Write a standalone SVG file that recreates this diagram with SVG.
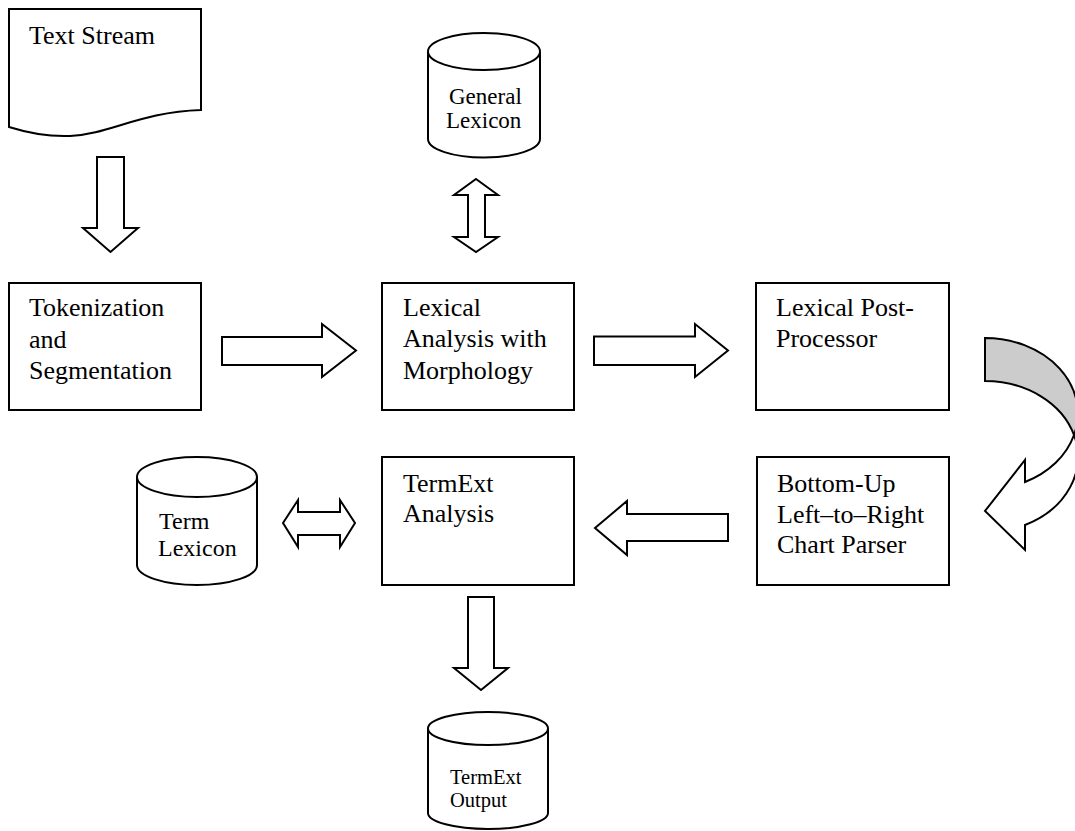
<svg xmlns="http://www.w3.org/2000/svg" width="1075" height="831" viewBox="0 0 1075 831">
  <style>
    .shape { fill: #ffffff; stroke: #000000; stroke-width: 2; stroke-linejoin: miter; }
    .band { fill: #cccccc; stroke: #000000; stroke-width: 2; }
    .label { font-family: "Liberation Serif", "Times New Roman", serif; font-size: 26px; fill: #000000; }
    .small { font-family: "Liberation Serif", "Times New Roman", serif; fill: #000000; }
  </style>
  <rect x="0" y="0" width="1075" height="831" fill="#ffffff"/>

  <!-- Input document -->
  <g id="text-stream">
    <path class="shape" d="M9,9 H201 V110 C140,112 110,134 70,136 C45,137 25,132 9,127 Z"/>
    <text class="label" x="29" y="44">Text Stream</text>
  </g>

  <!-- Processing steps -->
  <g id="tokenization">
    <rect class="shape" x="9" y="283" width="192" height="127"/>
    <text class="label" x="29" y="316">Tokenization</text>
    <text class="label" x="29" y="348">and</text>
    <text class="label" x="29" y="379">Segmentation</text>
  </g>

  <g id="lexical-analysis">
    <rect class="shape" x="382" y="283" width="192" height="127"/>
    <text class="label" x="403" y="316">Lexical</text>
    <text class="label" x="403" y="347">Analysis with</text>
    <text class="label" x="403" y="379">Morphology</text>
  </g>

  <g id="post-processor">
    <rect class="shape" x="756" y="283" width="193" height="127"/>
    <text class="label" x="776" y="316">Lexical Post-</text>
    <text class="label" x="776" y="347">Processor</text>
  </g>

  <g id="chart-parser">
    <rect class="shape" x="757" y="457" width="192" height="128"/>
    <text class="label" x="777" y="492">Bottom-Up</text>
    <text class="label" x="777" y="523">Left–to–Right</text>
    <text class="label" x="777" y="553">Chart Parser</text>
  </g>

  <g id="termext-analysis">
    <rect class="shape" x="382" y="457" width="192" height="128"/>
    <text class="label" x="403" y="492">TermExt</text>
    <text class="label" x="403" y="522">Analysis</text>
  </g>

  <!-- Data stores -->
  <g id="general-lexicon">
    <path class="shape" d="M428,51.5 V139 A56,18.5 0 0 0 540,139 V51.5"/>
    <ellipse class="shape" cx="484" cy="51.5" rx="56" ry="18.5"/>
    <text class="small" x="449" y="104" font-size="23">General</text>
    <text class="small" x="446" y="128" font-size="23">Lexicon</text>
  </g>

  <g id="term-lexicon">
    <path class="shape" d="M137,477 V565 A60,20 0 0 0 257,565 V477"/>
    <ellipse class="shape" cx="197" cy="477" rx="60" ry="20"/>
    <text class="small" x="159" y="529" font-size="24">Term</text>
    <text class="small" x="158" y="556" font-size="24">Lexicon</text>
  </g>

  <g id="termext-output">
    <path class="shape" d="M428,728.5 V813 A60,16 0 0 0 548,813 V728.5"/>
    <ellipse class="shape" cx="488" cy="728.5" rx="60" ry="16.5"/>
    <text class="small" x="450" y="784" font-size="20.5">TermExt</text>
    <text class="small" x="450" y="807" font-size="20.5">Output</text>
  </g>

  <!-- Block arrows between stages -->
  <g id="connectors">
    <!-- Text Stream to Tokenization -->
    <path class="shape" d="M97,157 H124 V228 H138 L110.5,252 L83,228 H97 Z"/>
    <!-- Tokenization to Lexical Analysis -->
    <path class="shape" d="M222,337 H322 V324 L356,350.5 L322,377 V365 H222 Z"/>
    <!-- Lexical Analysis to Post-Processor -->
    <path class="shape" d="M594,336.5 H695 V324 L728,350.5 L695,377 V365 H594 Z"/>
    <!-- General Lexicon lookup -->
    <path class="shape" d="M476,179 L498,195 H485 V237 H498 L476,252 L454,237 H468 V195 H454 Z"/>
    <!-- Post-Processor to Chart Parser (curved) -->
    <path class="band" d="M985,338 A93,75.5 0 0 1 1074,435 A93,75.5 0 0 0 985,381 Z"/>
    <path class="shape" d="M1074,435 A93,75.5 0 0 1 1025,482 V460 L985,511 L1025,550 V525 A93,75.5 0 0 0 1074,435 Z"/>
    <!-- Chart Parser to TermExt Analysis -->
    <path class="shape" d="M728,514 V541 H627 V555 L595,528 L627,501 V514 Z"/>
    <!-- Term Lexicon lookup -->
    <path class="shape" d="M283,523 L298,500 V512 H340 V500 L355,523 L340,547 V535 H298 V547 Z"/>
    <!-- TermExt Analysis to Output -->
    <path class="shape" d="M468,597 H494 V668 H508 L481,690 L454,668 H468 Z"/>
  </g>
</svg>
